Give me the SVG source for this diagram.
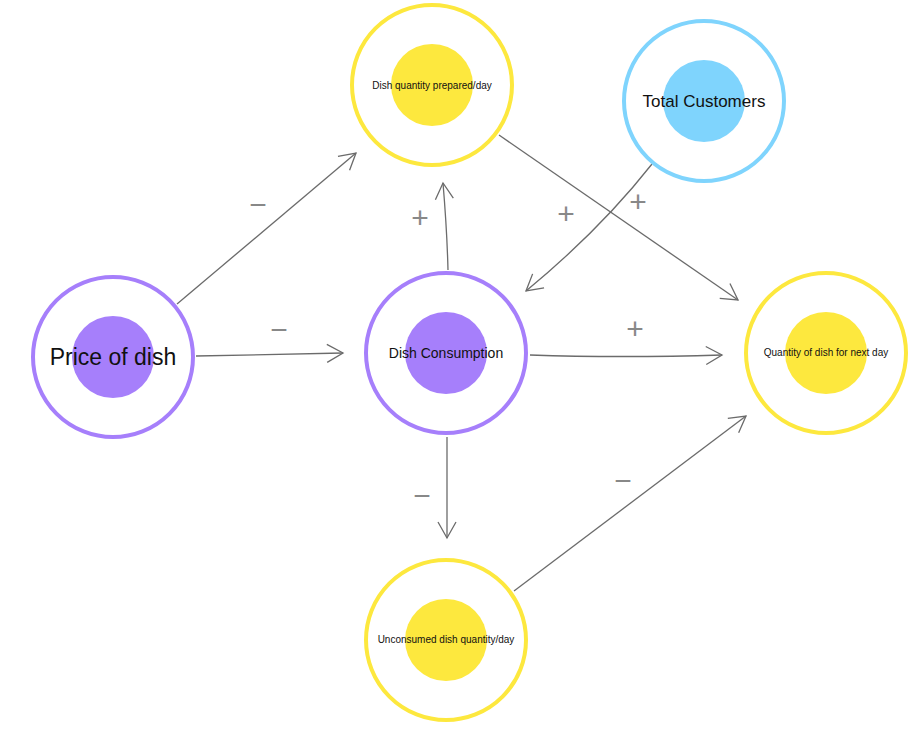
<svg xmlns="http://www.w3.org/2000/svg" width="914" height="729" viewBox="0 0 914 729">
<style>
.o{fill:#fff;stroke-width:4}
.p{stroke:#a67ffb}.pi{fill:#a67ffb}
.y{stroke:#fde83e}.yi{fill:#fde83e}
.b{stroke:#7fd4fd}.bi{fill:#7fd4fd}
.c{fill:none;stroke:#6b6b6b;stroke-width:1.3;marker-end:url(#a)}
.l{font-family:"Liberation Sans",Arial,sans-serif;font-size:30px;fill:#888;text-anchor:middle}
text{font-family:"Liberation Sans",Arial,sans-serif;text-anchor:middle;fill:#111}
</style>
<defs><marker id="a" viewBox="0 0 20 20" refX="18" refY="10" markerWidth="20" markerHeight="20" markerUnits="userSpaceOnUse" orient="auto"><path d="M2 1L18 10L2 19" fill="none" stroke="#6b6b6b" stroke-width="1.3"/></marker></defs>
<rect width="914" height="729" fill="#fff"/>
<g id="connectors">
<path class="c" d="M177 304L356 153"/>
<path class="c" d="M196 356L343 353"/>
<path class="c" d="M448 270Q447 230 443 183"/>
<path class="c" d="M499 135L738 300"/>
<path class="c" d="M652 164Q600 230 526 291"/>
<path class="c" d="M530 355Q620 358 722 355"/>
<path class="c" d="M447 437L447 538"/>
<path class="c" d="M514 591L746 416"/>
<text class="l" x="258" y="215">−</text>
<text class="l" x="279" y="340">−</text>
<text class="l" x="420" y="228">+</text>
<text class="l" x="638" y="212">+</text>
<text class="l" x="566" y="224">+</text>
<text class="l" x="635" y="339">+</text>
<text class="l" x="422" y="506">−</text>
<text class="l" x="623" y="491">−</text>
</g>
<g id="price"><circle class="o p" cx="113" cy="357" r="80"/><circle class="pi" cx="113" cy="357" r="41"/><text x="113" y="365" font-size="23">Price of dish</text></g>
<g id="prepared"><circle class="o y" cx="432" cy="85" r="80"/><circle class="yi" cx="432" cy="85" r="41"/><text x="432" y="89" font-size="10">Dish quantity prepared/day</text></g>
<g id="customers"><circle class="o b" cx="704" cy="101" r="80"/><circle class="bi" cx="704" cy="101" r="41"/><text x="704" y="107" font-size="17">Total Customers</text></g>
<g id="consumption"><circle class="o p" cx="446" cy="353" r="80"/><circle class="pi" cx="446" cy="353" r="41"/><text x="446" y="358" font-size="14">Dish Consumption</text></g>
<g id="nextday"><circle class="o y" cx="826" cy="353" r="80"/><circle class="yi" cx="826" cy="353" r="41"/><text x="826" y="356" font-size="10">Quantity of dish for next day</text></g>
<g id="unconsumed"><circle class="o y" cx="446" cy="640" r="80"/><circle class="yi" cx="446" cy="640" r="41"/><text x="446" y="643" font-size="10">Unconsumed dish quantity/day</text></g>
</svg>
